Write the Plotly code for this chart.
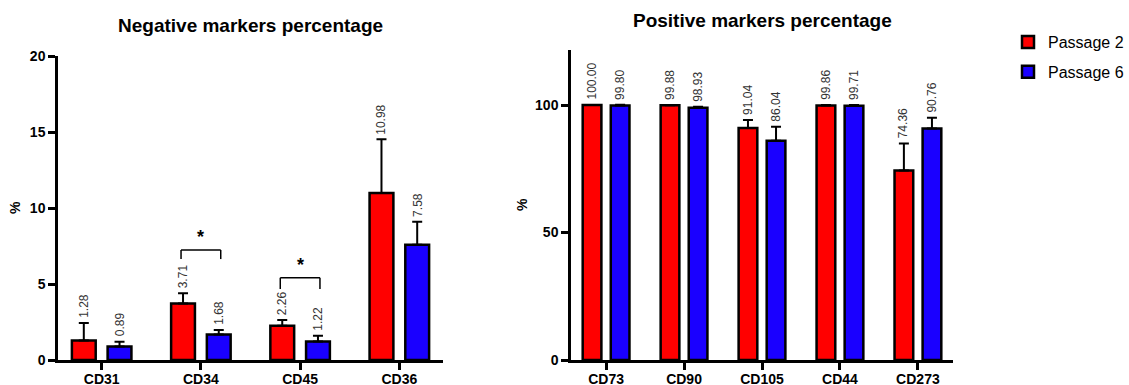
import plotly.graph_objects as go

# ---------------- data ----------------
neg_categories = ["CD31", "CD34", "CD45", "CD36"]
neg_p2 = [1.28, 3.71, 2.26, 10.98]
neg_p2_err = [1.15, 0.68, 0.37, 3.54]
neg_p6 = [0.89, 1.68, 1.22, 7.58]
neg_p6_err = [0.31, 0.29, 0.38, 1.52]

pos_categories = ["CD73", "CD90", "CD105", "CD44", "CD273"]
pos_p2 = [100.00, 99.88, 91.04, 99.86, 74.36]
pos_p2_err = [0.05, 0.15, 3.1, 0.2, 10.6]
pos_p6 = [99.80, 98.93, 86.04, 99.71, 90.76]
pos_p6_err = [0.3, 0.4, 5.5, 0.3, 4.3]

series_names = ["Passage 2", "Passage 6"]
series_colors = ["#ff0000", "#1a00ff"]

# significance brackets on negative chart: category index, bracket top, star height
sig_index = [1, 2]
sig_top = [7.24, 5.41]
sig_leg = [6.64, 4.67]
sig_star = [8.1, 6.25]

neg_yticks = [0, 5, 10, 15, 20]
pos_yticks = [0, 50, 100]

# ---------------- layout constants ----------------
W, H = 1129, 385
FONT = "Liberation Sans, Arial, sans-serif"
BARGAP = 0.28
BARGROUPGAP = 1 / 3
half = (1 - BARGAP) / 4  # center offset of each bar in the group


def px(x):
    return x / W


def py(y):
    return 1 - y / H


fig = go.Figure()


def add_bars(cats, vals_list, errs_list, xa, ya, showlegend):
    for name, color, vals, errs in zip(series_names, series_colors, vals_list, errs_list):
        fig.add_trace(go.Bar(
            x=cats, y=vals, name=name, legendgroup=name, showlegend=showlegend,
            marker=dict(color=color, line=dict(color="black", width=2.5)),
            error_y=dict(type="data", symmetric=False, array=errs,
                         arrayminus=[0] * len(errs), color="black",
                         thickness=2, width=5),
            xaxis=xa, yaxis=ya, offsetgroup=name,
        ))


add_bars(neg_categories, [neg_p2, neg_p6], [neg_p2_err, neg_p6_err], "x", "y", True)
add_bars(pos_categories, [pos_p2, pos_p6], [pos_p2_err, pos_p6_err], "x2", "y2", False)

annotations = []


def add_value_labels(vals_list, errs_list, xref, yref):
    for k, (vals, errs) in enumerate(zip(vals_list, errs_list)):
        sign = -1 if k == 0 else 1
        for i, (v, e) in enumerate(zip(vals, errs)):
            annotations.append(dict(
                x=i + sign * half, y=v + e, xref=xref, yref=yref,
                text=f"{v:.2f}", textangle=-90, showarrow=False,
                yanchor="bottom", xanchor="center", yshift=3,
                font=dict(family=FONT, size=12, color="#333333"),
            ))


add_value_labels([neg_p2, neg_p6], [neg_p2_err, neg_p6_err], "x", "y")
add_value_labels([pos_p2, pos_p6], [pos_p2_err, pos_p6_err], "x2", "y2")

shapes = []
for i, top, leg, star in zip(sig_index, sig_top, sig_leg, sig_star):
    x0, x1 = i - 0.2, i + 0.2
    for (a, b, c, d) in [(x0, leg, x0, top), (x0, top, x1, top), (x1, top, x1, leg)]:
        shapes.append(dict(type="line", xref="x", yref="y", x0=a, y0=b, x1=c, y1=d,
                           line=dict(color="black", width=1.5)))
    annotations.append(dict(x=i, y=star, xref="x", yref="y", text="<b>*</b>",
                            showarrow=False, xanchor="center", yanchor="middle",
                            font=dict(family=FONT, size=18, color="black")))

# titles
annotations.append(dict(x=px((58 + 443) / 2), y=py(25), xref="paper", yref="paper",
                        xanchor="center", yanchor="middle",
                        text="<b>Negative markers percentage</b>", showarrow=False,
                        font=dict(family=FONT, size=19, color="black")))
annotations.append(dict(x=px((571 + 953) / 2), y=py(20), xref="paper", yref="paper",
                        xanchor="center", yanchor="middle",
                        text="<b>Positive markers percentage</b>", showarrow=False,
                        font=dict(family=FONT, size=19, color="black")))
# y-axis labels
annotations.append(dict(x=px(15), y=py(208), xref="paper", yref="paper", text="<b>%</b>",
                        xanchor="center", yanchor="middle",
                        textangle=-90, showarrow=False, font=dict(family=FONT, size=14, color="black")))
annotations.append(dict(x=px(522), y=py(205), xref="paper", yref="paper", text="<b>%</b>",
                        xanchor="center", yanchor="middle",
                        textangle=-90, showarrow=False, font=dict(family=FONT, size=14, color="black")))

axis_common = dict(showline=True, linecolor="black", linewidth=2.5, ticks="outside",
                   ticklen=7, tickwidth=2.5, tickcolor="black", showgrid=False,
                   zeroline=False, automargin=False,
                   tickfont=dict(family=FONT, size=14, color="black"))

fig.update_layout(
    width=W, height=H,
    margin=dict(l=0, r=0, t=0, b=0, autoexpand=False),
    paper_bgcolor="white", plot_bgcolor="white",
    barmode="group", bargap=BARGAP, bargroupgap=BARGROUPGAP,
    showlegend=True,
    legend=dict(x=1, y=py(25), xanchor="right", yanchor="top",
                font=dict(family=FONT, size=16, color="black"),
                tracegroupgap=6, bgcolor="rgba(0,0,0,0)"),
    xaxis=dict(domain=[px(58), px(443)], anchor="y", type="category",
               range=[-0.44, len(neg_categories) - 1 + 0.44],
               tickvals=neg_categories, ticktext=[f"<b>{c}</b>" for c in neg_categories],
               ticklabelstandoff=-3, **axis_common),
    yaxis=dict(domain=[py(360), py(56)], anchor="x", range=[0, 20],
               tickvals=neg_yticks, ticktext=[f"<b>{t}</b>" for t in neg_yticks], **axis_common),
    xaxis2=dict(domain=[px(571), px(953)], anchor="y2", type="category",
                range=[-0.45, len(pos_categories) - 1 + 0.45],
                tickvals=pos_categories, ticktext=[f"<b>{c}</b>" for c in pos_categories],
                ticklabelstandoff=-3, **axis_common),
    yaxis2=dict(domain=[py(360), py(50)], anchor="x2", range=[0, 121.6],
                tickvals=pos_yticks, ticktext=[f"<b>{t}</b>" for t in pos_yticks], **axis_common),
    annotations=annotations,
    shapes=shapes,
)

fig.write_html(
    "out.html",
    config={"displayModeBar": False},
    post_script="document.body.style.margin='0';document.body.style.overflow='hidden';",
)
